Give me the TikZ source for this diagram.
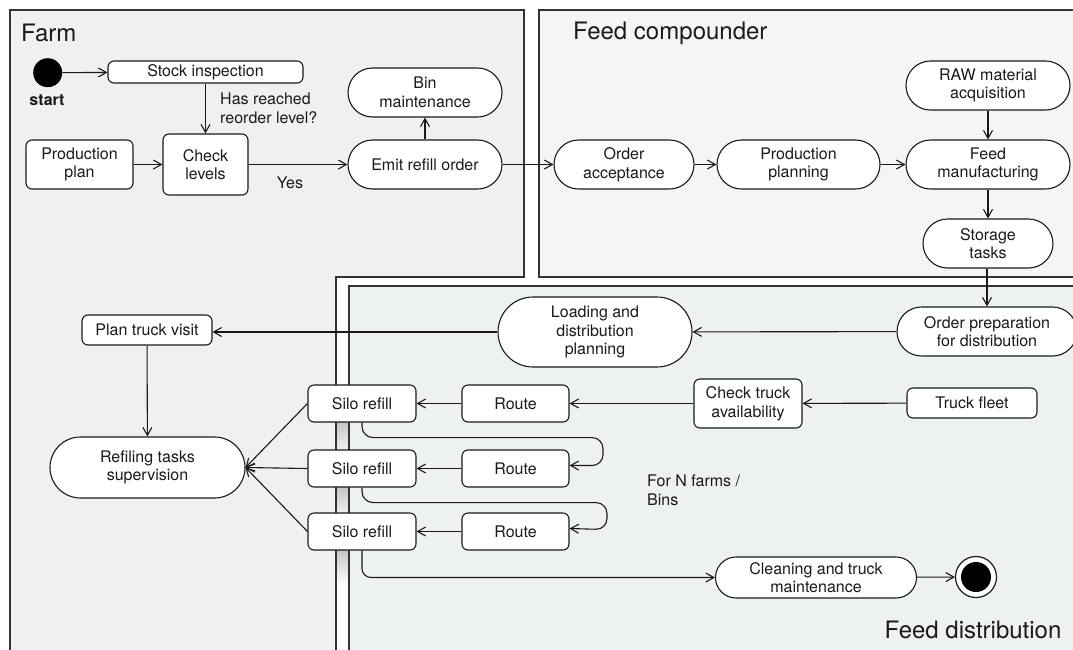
\documentclass[tikz,border=0pt]{standalone}
\usepackage{fontspec}
\setmainfont{TeX Gyre Heros}
\usepackage{xcolor}
\usetikzlibrary{arrows.meta, calc, positioning}

\definecolor{farmbg}{HTML}{EFF0F0}
\definecolor{compbg}{HTML}{F4F6F6}
\definecolor{distbg}{HTML}{EEF1F1}
\definecolor{ink}{HTML}{1A1A1A}

\begin{document}
\begin{tikzpicture}[x=1pt, y=-1pt, >={Straight Barb[length=8pt,width=9pt]},
    lane/.style={draw=black!80, line width=1.2pt},
    act/.style={draw=ink, line width=1.1pt, fill=white, rounded corners=6pt,
        align=center, inner sep=0pt, text=ink, font=\fontsize{16}{18.7}\selectfont},
    task/.style={act, rounded corners=#1},
    task/.default=24.5pt,
    flow/.style={->, line width=1.1pt, draw=ink},
    txt/.style={inner sep=0pt, align=left, text=ink, font=\fontsize{16}{18.7}\selectfont},
    lanetitle/.style={inner sep=0pt, text=ink, font=\fontsize{24}{28}\selectfont}]

    % =================================================================
    % 1. KHUNG HÌNH VÀ CÁC LÀN (SWIMLANE)
    % =================================================================
    \useasboundingbox (0,0) rectangle (1073,649);
    \clip (0,0) rectangle (1073,649);

    % Làn Farm (hình chữ L)
    \filldraw[lane, fill=farmbg] (10,10) -- (524,10) -- (524,277) -- (336,277)
        -- (336,680) -- (10,680) -- cycle;
    % Làn Feed compounder
    \filldraw[lane, fill=compbg] (539,10) rectangle (1100,277);
    % Làn Feed distribution
    \filldraw[lane, fill=distbg] (349,286) rectangle (1100,680);

    % Bóng mờ trong khe giữa hai làn
    \shade[top color=gray!45, bottom color=gray!12] (337.5,422) rectangle (347.5,450);
    \shade[top color=gray!45, bottom color=gray!12] (337.5,487) rectangle (347.5,513);
    \shade[top color=gray!45, bottom color=white] (337.5,550) rectangle (347.5,585);

    % Tên các làn
    \node[lanetitle, anchor=west] (farmlbl) at (21,33) {Farm};
    \node[lanetitle, anchor=west] (complbl) at (573,33) {Feed compounder};
    \node[lanetitle] (distlbl) at (973,630) {Feed distribution};

    % =================================================================
    % 2. CÁC NÚT TRONG LÀN FARM
    % =================================================================
    \node[circle, fill=black, minimum size=29pt, inner sep=0pt] (start) at (47.7,72.7) {};
    \node[txt, font=\fontsize{16}{18.7}\selectfont\bfseries] (startlbl) at (47,100) {start};

    \node[act, minimum width=195pt, minimum height=22pt] (stock) at (205.5,72) {Stock inspection};
    \node[act, minimum width=85pt, minimum height=61pt] (check) at (205.5,164.5) {Check\\levels};
    \node[act, minimum width=107pt, minimum height=49pt] (prodplan) at (79.5,164.5) {Production\\plan};
    \node[task, minimum width=154pt, minimum height=49pt] (emit) at (425,164.5) {Emit refill order};
    \node[task, minimum width=154pt, minimum height=49pt] (bin) at (425,92.5) {Bin\\maintenance};

    \node[txt, anchor=west] (reorder) at (220,108) {Has reached\\reorder level?};
    \node[txt] (yes) at (290,183) {Yes};

    % =================================================================
    % 3. CÁC NÚT TRONG LÀN FEED COMPOUNDER
    % =================================================================
    \node[task, minimum width=140pt, minimum height=49pt] (orderacc) at (624,164.5) {Order\\acceptance};
    \node[task, minimum width=163pt, minimum height=49pt] (prodplanning) at (798.5,164.5) {Production\\planning};
    \node[task, minimum width=164pt, minimum height=49pt] (feedman) at (988,164.5) {Feed\\manufacturing};
    \node[task, minimum width=164pt, minimum height=49pt] (raw) at (988,85.5) {RAW material\\acquisition};
    \node[task, minimum width=130pt, minimum height=49pt] (storage) at (988,243.5) {Storage\\tasks};

    % =================================================================
    % 4. CÁC NÚT TRONG LÀN FEED DISTRIBUTION
    % =================================================================
    \node[task, minimum width=180pt, minimum height=49pt] (orderprep) at (987,331.5) {Order preparation\\for distribution};
    \node[task=35pt, minimum width=194pt, minimum height=70pt] (loading) at (595,332) {Loading and\\distribution\\planning};
    \node[act, minimum width=130pt, minimum height=30pt] (plantruck) at (147,330) {Plan truck visit};
    \node[task=30.5pt, minimum width=195pt, minimum height=61pt] (refiling) at (147.5,467.5) {Refiling tasks\\supervision};

    \node[act, minimum width=108pt, minimum height=37pt] (silo1) at (362,403.5) {Silo refill};
    \node[act, minimum width=108pt, minimum height=37pt] (silo2) at (362,468.5) {Silo refill};
    \node[act, minimum width=108pt, minimum height=37pt] (silo3) at (362,531.5) {Silo refill};
    \node[act, minimum width=107pt, minimum height=37pt] (route1) at (515.5,403.5) {Route};
    \node[act, minimum width=107pt, minimum height=37pt] (route2) at (515.5,468.5) {Route};
    \node[act, minimum width=107pt, minimum height=37pt] (route3) at (515.5,531.5) {Route};

    \node[act, minimum width=108pt, minimum height=49pt] (checktruck) at (748,403.5) {Check truck\\availability};
    \node[act, minimum width=130pt, minimum height=30pt] (fleet) at (972,403) {Truck fleet};
    \node[task=20.5pt, minimum width=201pt, minimum height=41pt] (cleaning) at (816,577.5) {Cleaning and truck\\maintenance};

    \node[circle, draw=ink, line width=1.2pt, fill=white, minimum size=41pt, inner sep=0pt] (end) at (976,577) {};
    \fill[black] (end.center) circle (15pt);

    \node[txt, anchor=west] (nfarms) at (647,490) {For N farms /\\Bins};

    % =================================================================
    % 5. CÁC MŨI TÊN NỐI
    % =================================================================
    \draw[flow] (start) -- (stock);
    \draw[flow] (stock) -- (check);
    \draw[flow] (prodplan) -- (check);
    \draw[flow] (check) -- (emit);
    \draw[flow] (emit) -- (bin);
    \draw[flow] (emit) -- (orderacc);
    \draw[flow] (orderacc) -- (prodplanning);
    \draw[flow] (prodplanning) -- (feedman);
    \draw[flow] (raw) -- (feedman);
    \draw[flow] (feedman) -- (storage);
    \draw[flow] (storage.south -| orderprep.north) -- (orderprep.north);
    \draw[flow] (orderprep) -- (loading);
    \draw[flow] (loading.west) -- (plantruck.east |- loading.west);
    \draw[flow] (plantruck) -- (refiling);

    \draw[flow] (fleet) -- (checktruck);
    \draw[flow] (checktruck.west) -- (route1.east |- checktruck.west);
    \draw[flow] (route1) -- (silo1);
    \draw[flow] (route2) -- (silo2);
    \draw[flow] (route3) -- (silo3);

    \draw[flow] (silo1.west) -- (refiling.east);
    \draw[flow] (silo2.west) -- (refiling.east);
    \draw[flow] (silo3.west) -- (refiling.east);

    % Vòng lặp cho N trang trại
    \draw[flow, rounded corners=11pt] (silo1.south) -- ++(0,15) -- ++(241,0) -- ++(0,28)
        -- ([yshift=3pt]route2.east);
    \draw[flow, rounded corners=11pt] (silo2.south) -- ++(0,15) -- ++(245,0) -- ++(0,27)
        -- ([yshift=3pt]route3.east);
    \draw[flow, rounded corners=9pt] (silo3.south) |- (cleaning.west);
    \draw[flow] (cleaning) -- (end);

\end{tikzpicture}
\end{document}
